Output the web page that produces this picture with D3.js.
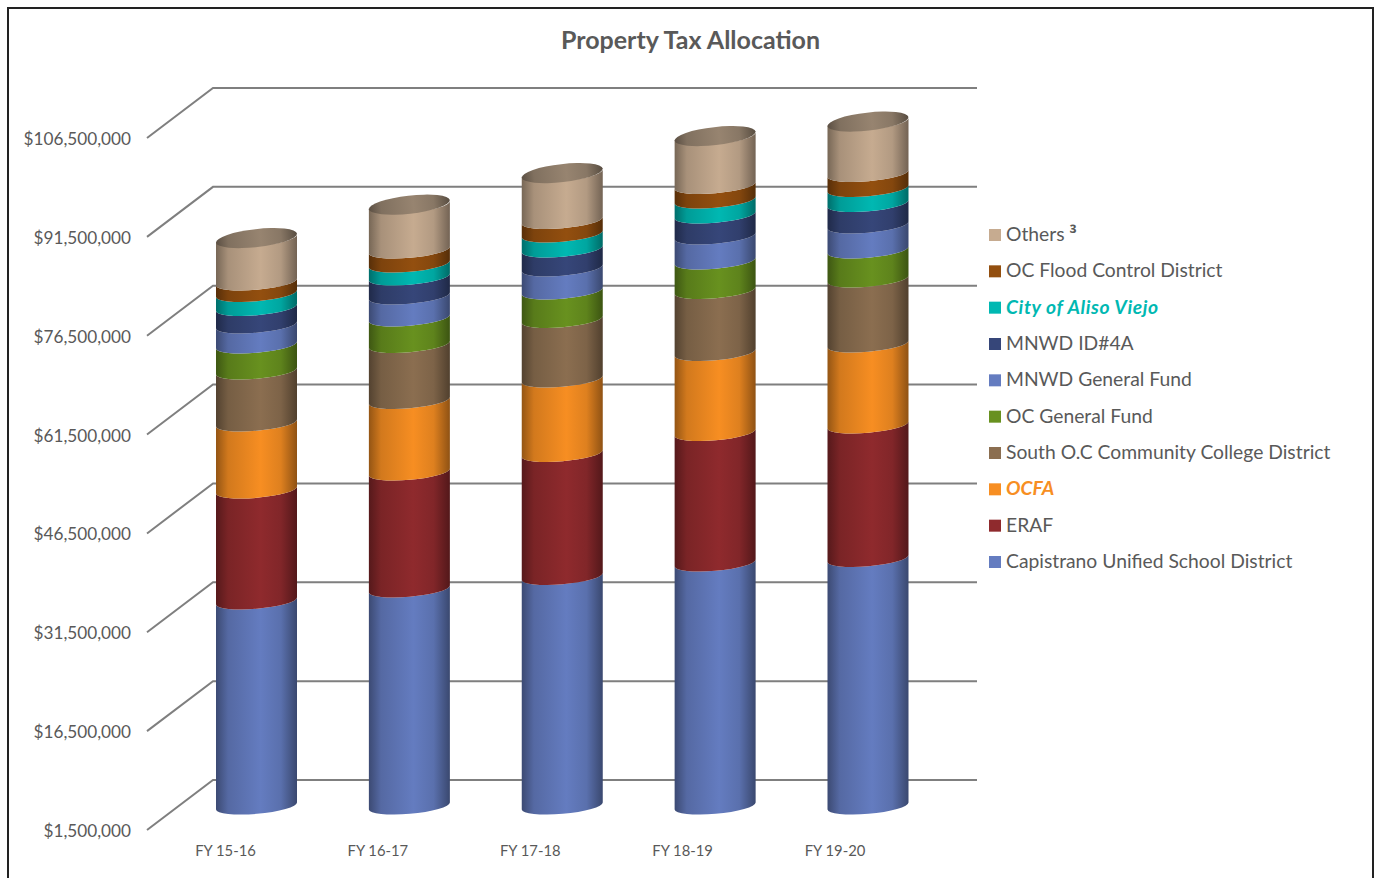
<!DOCTYPE html>
<html>
<head>
<meta charset="utf-8">
<title>Property Tax Allocation</title>
<script src="https://cdnjs.cloudflare.com/ajax/libs/d3/7.8.5/d3.min.js"></script>
<style>
  html, body { margin: 0; padding: 0; background: #fff; overflow: hidden; }
  svg { display: block; }
  text { font-family: Lato, "Open Sans", sans-serif; fill: #595959; }
</style>
</head>
<body>
<script>
const years = ["FY 15-16", "FY 16-17", "FY 17-18", "FY 18-19", "FY 19-20"];

const capistrano = [32610000, 34430000, 36330000, 38370000, 39060000];
const eraf = [16840000, 17750000, 18660000, 19800000, 20260000];
const ocfa = [10170000, 10850000, 11310000, 12140000, 12290000];
const southOC = [7890000, 8500000, 9030000, 9410000, 9860000];
const ocGeneral = [3950000, 4020000, 4320000, 4480000, 4400000];
const mnwdGeneral = [3030000, 3340000, 3490000, 3790000, 3790000];
const mnwdId4a = [2660000, 2880000, 2880000, 3190000, 3260000];
const alisoViejo = [2120000, 1970000, 2280000, 2280000, 2280000];
const floodControl = [1750000, 2120000, 2050000, 2200000, 2280000];
const others = [6650000, 6880000, 7180000, 7490000, 7870000];

// bottom to top
const seriesNames = [
  "Capistrano Unified School District",
  "ERAF",
  "OCFA",
  "South O.C Community College District",
  "OC General Fund",
  "MNWD General Fund",
  "MNWD ID#4A",
  "City of Aliso Viejo",
  "OC Flood Control District",
  "Others ³",
];
const seriesValues = [capistrano, eraf, ocfa, southOC, ocGeneral, mnwdGeneral, mnwdId4a, alisoViejo, floodControl, others];
const seriesColors = ["#647cc0", "#8f2a2d", "#f78e22", "#8b6e50", "#68911f", "#647cc0", "#364679", "#00b8b2", "#934f0f", "#c6ab90"];
const accented = ["City of Aliso Viejo", "OCFA"];

const yTicks = [1500000, 16500000, 31500000, 46500000, 61500000, 76500000, 91500000, 106500000];

const w = 1376;
const h = 878;
const depth = { x: 66, y: -50 };
const wallRight = 977;
const colRx = 40.5;
const colRy = 7.8;
const colTilt = 3.5;
const colRotate = -5;
const capRy = 9;
const capRotate = -6.5;
const colLift = -24;

const svg = d3.select("body").append("svg").attr("width", w).attr("height", h);
const defs = svg.append("defs");

// frame, runs off the bottom of the picture
svg
  .append("rect")
  .attr("x", 8)
  .attr("y", 8)
  .attr("width", 1365)
  .attr("height", 900)
  .attr("fill", "none")
  .attr("stroke", "#222")
  .attr("stroke-width", 2);

// title
svg
  .append("text")
  .attr("x", 690.5)
  .attr("y", 49)
  .attr("text-anchor", "middle")
  .attr("font-size", 25)
  .attr("font-weight", 700)
  .text("Property Tax Allocation");

const yScale = d3.scaleLinear().domain([1500000, 106500000]).range([830, 138]).clamp(true);
const xLabels = d3.scalePoint().domain(years).range([225, 834.5]);
const xCols = d3.scalePoint().domain(years).range([256.5, 868]);

// walls
const wallLine = d3.line();
svg
  .append("g")
  .selectAll("path")
  .data(yTicks)
  .enter()
  .append("path")
  .attr("d", (d) =>
    wallLine([
      [147, yScale(d)],
      [147 + depth.x, yScale(d) + depth.y],
      [wallRight, yScale(d) + depth.y],
    ])
  )
  .attr("fill", "none")
  .attr("stroke", "#7f7f7f")
  .attr("stroke-width", 2);

// y-axis
const yAxis = d3.axisLeft(yScale).tickValues(yTicks).tickSize(0).tickPadding(0).tickFormat(d3.format("$,"));
const yAxisG = svg.append("g").attr("transform", "translate(131, 1)").call(yAxis);
yAxisG.select(".domain").remove();
yAxisG.selectAll("text").attr("font-size", 17.2).attr("font-family", null).style("fill", "#595959");

// x-axis
const xAxis = d3.axisBottom(xLabels).tickSize(0).tickPadding(0);
const xAxisG = svg.append("g").attr("transform", "translate(0, 845)").call(xAxis);
xAxisG.select(".domain").remove();
xAxisG.selectAll("text").attr("font-size", 14.8).attr("font-family", null).style("fill", "#595959");

// shading across a cylinder
const shade = (id, color) => {
  const stops = [
    [0, 0.6],
    [0.15, 0.85],
    [0.55, 1],
    [0.8, 0.9],
    [1, 0.58],
  ];
  const grad = defs.append("linearGradient").attr("id", id);
  grad
    .selectAll("stop")
    .data(stops)
    .enter()
    .append("stop")
    .attr("offset", (d) => d[0])
    .attr("stop-color", (d) => {
      const c = d3.rgb(color);
      return d3.rgb(c.r * d[1], c.g * d[1], c.b * d[1]).formatHex();
    });
};
seriesColors.forEach((c, i) => shade(`band-${i}`, c));
shade("cap", "#978470");

// stacked columns
const table = years.map((year, i) => {
  const row = { year };
  seriesNames.forEach((name, s) => (row[name] = seriesValues[s][i]));
  return row;
});
const stacked = d3.stack().keys(seriesNames)(table);

const colY = (v) => yScale(v) + colLift;

const bandPath = (cx, y0, y1) =>
  `M${cx - colRx},${y1 + colTilt}` +
  `A${colRx},${colRy} ${colRotate} 0 0 ${cx + colRx},${y1 - colTilt}` +
  `L${cx + colRx},${y0 - colTilt}` +
  `A${colRx},${colRy} ${colRotate} 0 1 ${cx - colRx},${y0 + colTilt}Z`;

const columns = svg
  .append("g")
  .selectAll("g")
  .data(stacked)
  .enter()
  .append("g")
  .attr("fill", (d, i) => `url(#band-${i})`);

columns
  .selectAll("path")
  .data((d) => d)
  .enter()
  .append("path")
  .attr("d", (d) => bandPath(xCols(d.data.year), colY(d[0]), colY(d[1])));

// top of each column
svg
  .append("g")
  .selectAll("ellipse")
  .data(stacked[stacked.length - 1])
  .enter()
  .append("ellipse")
  .attr("rx", colRx + 0.2)
  .attr("ry", capRy)
  .attr("transform", (d) => `translate(${xCols(d.data.year)}, ${colY(d[1])}) rotate(${capRotate})`)
  .attr("fill", "url(#cap)");

// legend, top entry first
const legendOrder = seriesNames.slice().reverse();
const yLegend = d3.scalePoint().domain(legendOrder).range([235, 562]);
const legend = svg
  .append("g")
  .selectAll("g")
  .data(legendOrder)
  .enter()
  .append("g")
  .attr("transform", (d) => `translate(989, ${yLegend(d)})`);

legend
  .append("rect")
  .attr("y", -6)
  .attr("width", 12)
  .attr("height", 12)
  .attr("fill", (d) => seriesColors[seriesNames.indexOf(d)]);

legend
  .append("text")
  .attr("x", 17)
  .attr("y", 6)
  .attr("font-size", 19.3)
  .attr("font-weight", (d) => (accented.includes(d) ? 700 : 400))
  .attr("font-style", (d) => (accented.includes(d) ? "italic" : "normal"))
  .attr("letter-spacing", (d) => (d === "City of Aliso Viejo" ? 0.6 : 0))
  .style("fill", (d) => (accented.includes(d) ? seriesColors[seriesNames.indexOf(d)] : "#595959"))
  .html((d) => d.replace("³", '<tspan font-family="Open Sans" font-weight="700">³</tspan>'));
</script>
</body>
</html>
